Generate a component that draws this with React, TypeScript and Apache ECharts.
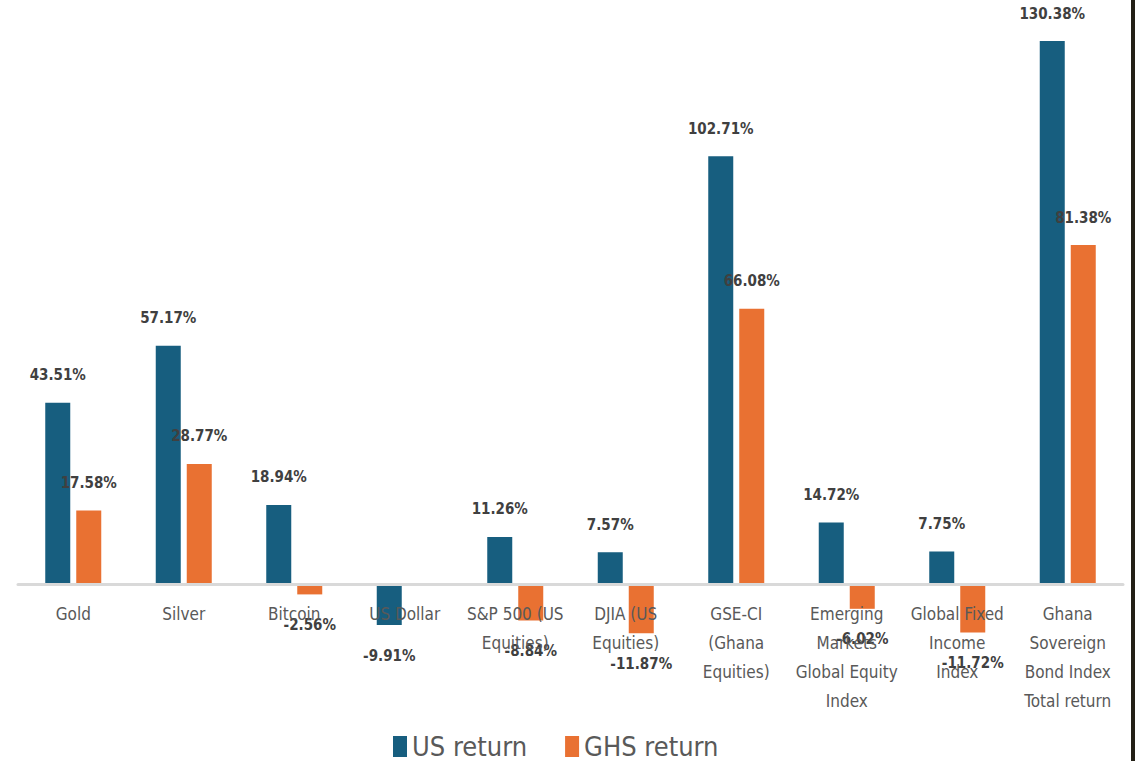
import React, { useEffect, useRef } from "react";
import * as echarts from "echarts";

const categories = [
  "Gold",
  "Silver",
  "Bitcoin",
  "US Dollar",
  "S&P 500 (US\nEquities)",
  "DJIA (US\nEquities)",
  "GSE-CI\n(Ghana\nEquities)",
  "Emerging\nMarkets\nGlobal Equity\nIndex",
  "Global Fixed\nIncome\nIndex",
  "Ghana\nSovereign\nBond Index\nTotal return",
];
const usReturn = [43.51, 57.17, 18.94, -9.91, 11.26, 7.57, 102.71, 14.72, 7.75, 130.38];
const ghsReturn: (number | null)[] = [17.58, 28.77, -2.56, null, -8.84, -11.87, 66.08, -6.02, -11.72, 81.38];
const seriesNames = ["US return", "GHS return"];

const FONT = "'DejaVu Sans Condensed', 'Liberation Sans Narrow', 'DejaVu Sans', sans-serif";

function toData(vals: (number | null)[]) {
  return vals.map((v) =>
    v === null
      ? "-"
      : v < 0
      ? { value: v, label: { position: "bottom", distance: 23 } }
      : v
  );
}

export default function App() {
  const ref = useRef<HTMLDivElement>(null);
  useEffect(() => {
    const chart = echarts.init(ref.current!, undefined, { renderer: "svg" });
    const labelCfg = {
      show: true,
      position: "top",
      distance: 20,
      fontWeight: "bold",
      fontSize: 15,
      fontFamily: FONT,
      color: "#404040",
      formatter: (p: any) => Number(p.value).toFixed(2) + "%",
    };
    chart.setOption({
      animation: false,
      backgroundColor: "#ffffff",
      grid: { left: 18, right: 12, top: 1, height: 666, outerBoundsMode: "none", containLabel: false },
      legend: {
        data: seriesNames,
        left: 388,
        top: 728,
        icon: "rect",
        itemWidth: 14,
        itemHeight: 21,
        itemGap: 38,
        textStyle: { fontSize: 27, color: "#595959", fontFamily: FONT },
      },
      xAxis: {
        type: "category",
        data: categories,
        z: 10,
        axisLine: { onZero: true, lineStyle: { color: "#d9d9d9", width: 3 } },
        axisTick: { show: false },
        axisLabel: {
          interval: 0,
          color: "#595959",
          fontSize: 17,
          lineHeight: 29,
          margin: -68,
          fontFamily: FONT,
        },
      },
      yAxis: {
        type: "value",
        min: -20,
        max: 140,
        show: false,
        splitLine: { show: false },
      },
      series: [
        {
          name: seriesNames[0],
          type: "bar",
          data: toData(usReturn),
          barWidth: 25,
          barGap: "24%",
          itemStyle: { color: "#175e7f" },
          label: labelCfg,
        },
        {
          name: seriesNames[1],
          type: "bar",
          data: toData(ghsReturn),
          barWidth: 25,
          itemStyle: { color: "#e97132" },
          label: labelCfg,
        },
      ],
      graphic: [
        {
          type: "rect",
          shape: { x: 1131, y: 0, width: 4, height: 761 },
          style: { fill: "#231f16" },
        },
      ],
    });
    return () => chart.dispose();
  }, []);
  return (
    <div
      ref={ref}
      style={{ position: "fixed", left: 0, top: 0, width: 1135, height: 761 }}
    />
  );
}
